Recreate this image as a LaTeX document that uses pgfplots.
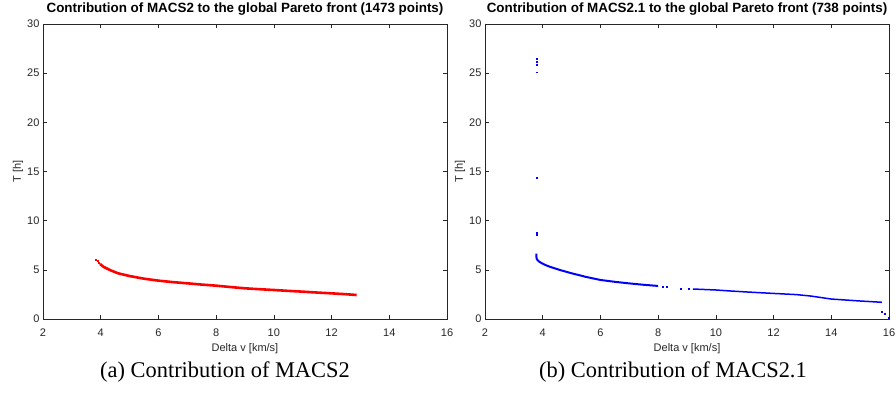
\documentclass[border=0pt]{standalone}
\usepackage{fontspec}
\setmainfont{Liberation Serif}
\setsansfont{Liberation Sans}
\usepackage{pgfplots}
\pgfplotsset{compat=1.18}
\definecolor{axgray}{rgb}{0.15,0.15,0.15}
\pgfplotsset{mystyle/.style={
  scale only axis, width=404pt, height=295pt,
  xmin=2, xmax=16, ymin=0, ymax=30,
  xtick={2,4,...,16}, ytick={0,5,...,30},
  tick align=inside, xtick pos=both, ytick pos=both,
  major tick length=4pt,
  axis line style={axgray, line width=0.6pt},
  every tick/.style={axgray, line width=0.6pt},
  /pgf/number format/assume math mode=true,
  every tick label/.append style={font=\sffamily\fontsize{11}{12}\selectfont, text=axgray},
  xticklabel style={yshift=-6pt},
  yticklabel style={xshift=0pt},
  label style={font=\sffamily\fontsize{11}{13}\selectfont, text=axgray},
  xlabel={Delta v [km/s]}, ylabel={T [h]},
  xlabel style={at={(axis description cs:0.5,0)}, anchor=center, yshift=-30pt},
  ylabel style={at={(axis description cs:-0.062,0.5)}, anchor=center, rotate=0},
  title style={font=\sffamily\bfseries\fontsize{13.4}{15}\selectfont, at={(axis description cs:0.5,1)}, anchor=base, yshift=5pt},
}}
\begin{document}
\begin{tikzpicture}
\path[use as bounding box] (0,0) rectangle (896pt,396pt);
\begin{axis}[mystyle, at={(43pt,77pt)}, anchor=south west,
  title={Contribution of MACS2 to the global Pareto front (1473 points)}]
\addplot[red, line width=2.6pt] coordinates {
(3.975,5.6) (4.1,5.3) (4.32,4.98) (4.6,4.65) (5.0,4.37) (5.5,4.1) (6.0,3.9)
(6.5,3.75) (7.0,3.63) (7.5,3.5) (8.0,3.39) (8.5,3.25) (9.0,3.12) (9.5,3.03)
(10.0,2.95) (10.5,2.86) (11.0,2.78) (11.5,2.69) (12.0,2.61) (12.5,2.52) (12.87,2.44)};
\addplot[red, only marks, mark=square*, mark size=0.45pt] coordinates {
(3.83,6.07) (3.88,5.92) (3.93,5.75)};
\end{axis}
\begin{axis}[mystyle, at={(485pt,77pt)}, anchor=south west,
  title={Contribution of MACS2.1 to the global Pareto front (738 points)}]
\addplot[blue, line width=2pt] coordinates {
(3.78,6.65) (3.78,6.3) (3.8,6.05) (3.87,5.85) (3.95,5.7) (4.1,5.48) (4.26,5.3)
(4.6,4.98) (5.0,4.65) (5.5,4.28) (6.0,3.97) (6.5,3.78) (7.0,3.62) (7.5,3.48) (8.0,3.36)};
\addplot[blue, line width=1.5pt] coordinates {
(9.2,3.05) (9.6,3.0) (10.0,2.95) (10.5,2.85) (11.0,2.76) (11.5,2.68) (12.0,2.6)
(12.8,2.48) (13.3,2.33) (14.0,2.03) (14.5,1.93) (15.0,1.83) (15.75,1.70)};
\addplot[blue, only marks, mark=square*, mark size=0.4pt] coordinates {
(3.78,26.5) (3.78,26.2) (3.78,25.9) (3.78,25.1) (3.78,14.35) (3.78,8.75) (3.78,8.6)
(8.15,3.32) (8.3,3.3) (8.77,3.12) (9.05,3.08)
(15.75,0.75) (15.85,0.5) (15.98,0.1)};
\end{axis}
\node[font=\fontsize{22.4}{26}\selectfont] at (225pt,24pt) {(a) Contribution of MACS2};
\node[font=\fontsize{22.4}{26}\selectfont] at (673pt,24pt) {(b) Contribution of MACS2.1};
\end{tikzpicture}
\end{document}
